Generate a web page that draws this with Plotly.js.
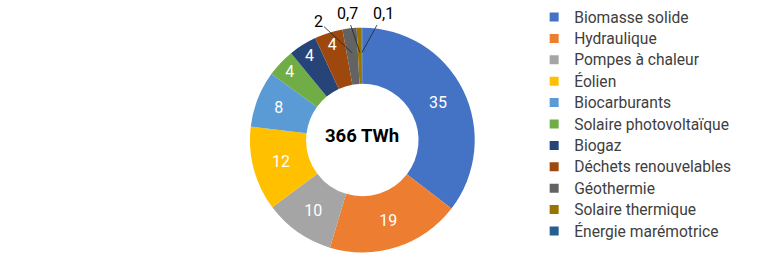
<!DOCTYPE html>
<html><head><meta charset="utf-8">
<script src="https://cdn.plot.ly/plotly-3.0.1.min.js"></script>
<style>html,body{margin:0;padding:0;background:#fff}#chart{width:762px;height:267px}</style>
</head><body><div id="chart"></div>
<script>
const categories = ["Biomasse solide","Hydraulique","Pompes à chaleur","Éolien","Biocarburants","Solaire photovoltaïque","Biogaz","Déchets renouvelables","Géothermie","Solaire thermique","Énergie marémotrice"];
const values = [35,19,10,12,8,4,4,4,2,0.7,0.1];
const colors = ["#4472C4","#ED7D31","#A5A5A5","#FFC000","#5B9BD5","#70AD47","#264478","#9E480E","#636363","#997300","#255E91"];
const centerLabel = "366 TWh";
// pixel positions of the small-slice call-out labels (style only)
const calloutOffsets = {8: [318, 21], 9: [347, 14], 10: [383, 14]};

const W = 762, H = 267;
const domX = [0.328, 0.623], domY = [0.052, 0.899];
const fmt = v => String(v).replace('.', ',');
const labelsText = values.map((v, i) => calloutOffsets[i] ? '' : fmt(v));

const pie = {
  type: 'pie',
  labels: categories,
  values: values,
  text: labelsText,
  textinfo: 'text',
  textposition: 'inside',
  insidetextorientation: 'horizontal',
  insidetextfont: {color: '#ffffff', size: 16, family: 'Roboto'},
  hole: 0.5,
  sort: false,
  direction: 'clockwise',
  rotation: 0,
  marker: {colors: colors, line: {width: 0}},
  domain: {x: domX, y: domY},
  showlegend: false,
  hoverinfo: 'label+value'
};

// legend entries
const legendTraces = categories.map((c, i) => ({
  type: 'scatter', mode: 'markers', x: [null], y: [null],
  name: '<span style="font-size:15.6px">' + c + '</span>',
  marker: {symbol: 'square', size: 9, color: colors[i]},
  showlegend: true, hoverinfo: 'skip'
}));

// geometry of the pie (from domain)
const cx = (domX[0] + domX[1]) / 2 * W;
const cy = (1 - (domY[0] + domY[1]) / 2) * H;
const R = Math.min((domX[1] - domX[0]) * W, (domY[1] - domY[0]) * H) / 2;
const total = values.reduce((a, b) => a + b, 0);

const annotations = [{text: '<b>' + centerLabel + '</b>', x: cx / W, y: 1 - (cy - 4) / H, xref: 'paper', yref: 'paper', showarrow: false, font: {size: 18.5, color: '#000000', family: 'Roboto'}}];
let cum = 0;
values.forEach((v, i) => {
  const mid = (cum + v / 2) / total * 2 * Math.PI;
  cum += v;
  if (!calloutOffsets[i]) return;
  const r = 0.78 * R;
  const px = cx + r * Math.sin(mid), py = cy - r * Math.cos(mid);
  const [lx, ly] = calloutOffsets[i];
  annotations.push({
    text: fmt(v), x: px / W, y: 1 - py / H, xref: 'paper', yref: 'paper',
    showarrow: true, arrowhead: 0, arrowwidth: 0.8, arrowcolor: '#222222',
    ax: lx - px, ay: ly - py, standoff: 0,
    font: {size: 16, color: '#000000', family: 'Roboto'}
  });
});

const layout = {
  width: W, height: H,
  margin: {l: 0, r: 0, t: 0, b: 0},
  paper_bgcolor: '#ffffff', plot_bgcolor: '#ffffff',
  font: {family: 'Roboto', color: '#404040'},
  xaxis: {visible: false}, yaxis: {visible: false},
  showlegend: true,
  legend: {x: 0.701, y: 0.995, xanchor: 'left', yanchor: 'top', font: {size: 14.15, color: '#404040', family: 'Roboto'}},
  annotations: annotations
};
Plotly.newPlot('chart', [pie].concat(legendTraces), layout, {displayModeBar: false, staticPlot: true});
</script></body></html>
